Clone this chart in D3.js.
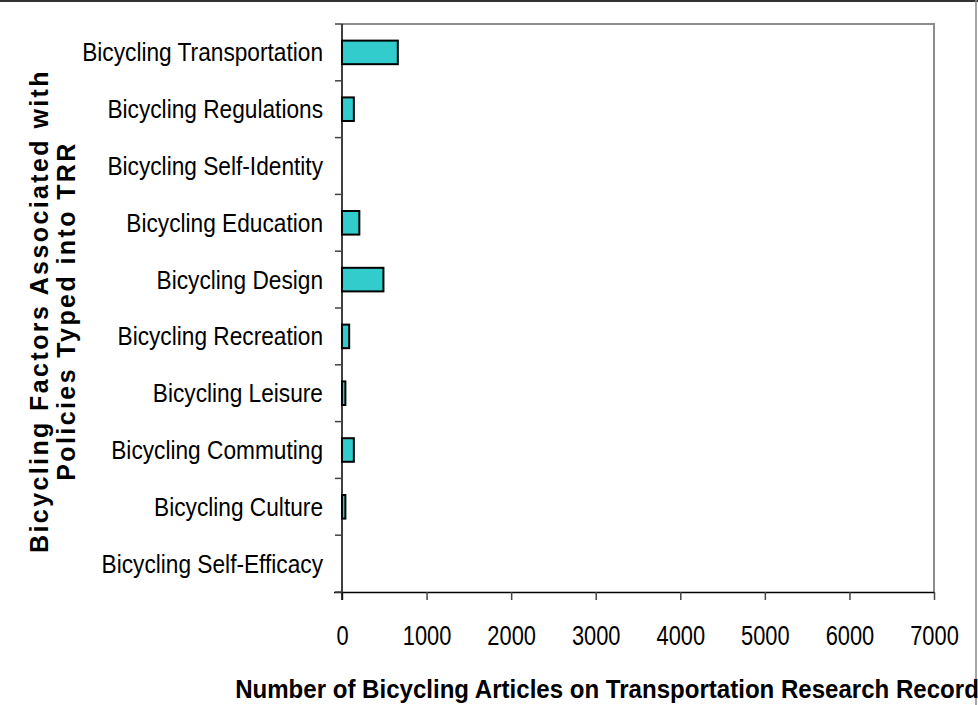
<!DOCTYPE html>
<html>
<head>
<meta charset="utf-8">
<script src="https://cdn.jsdelivr.net/npm/d3@7"></script>
<style>
  html, body { margin: 0; padding: 0; background: #fff; }
  svg { display: block; }
  text { font-family: "Liberation Sans", Arial, sans-serif; fill: #000; }
</style>
</head>
<body>
<svg id="chart" width="978" height="705"></svg>
<script>
// Factors, top to bottom as listed on the chart
const categories = [
  "Bicycling Transportation",
  "Bicycling Regulations",
  "Bicycling Self-Identity",
  "Bicycling Education",
  "Bicycling Design",
  "Bicycling Recreation",
  "Bicycling Leisure",
  "Bicycling Commuting",
  "Bicycling Culture",
  "Bicycling Self-Efficacy"
];
// Article counts per factor
const articleCounts = [660, 140, 0, 205, 490, 85, 40, 140, 40, 0];
const xTicks = [0, 1000, 2000, 3000, 4000, 5000, 6000, 7000];
const xTitle = "Number of Bicycling Articles on Transportation Research Record";
const yTitleLines = ["Bicycling Factors Associated with", "Policies Typed into TRR"];

const svg = d3.select("#chart");
const W = 978, H = 705;
const plot = { left: 342, right: 934, top: 24, bottom: 592 };

// condensed lettering: horizontally squeezed text
const narrowAt = (x, y, sx) => `translate(${x},${y}) scale(${sx},1)`;

// outer frame: top and right edges
svg.append("line").attr("x1", 0).attr("x2", W).attr("y1", 1).attr("y2", 1)
  .attr("stroke", "#333").attr("stroke-width", 2);
svg.append("line").attr("x1", W - 2).attr("x2", W - 2).attr("y1", 0).attr("y2", H)
  .attr("stroke", "#888").attr("stroke-width", 1.5);

const x = d3.scaleLinear().domain([0, 7000]).range([plot.left, plot.right]);
const y = d3.scaleBand().domain(categories).range([plot.top, plot.bottom])
  .paddingInner(0.585).paddingOuter(0.2925);

// plot frame (top and right in grey)
svg.append("path")
  .attr("d", `M${plot.left},${plot.top}H${plot.right}V${plot.bottom}`)
  .attr("fill", "none").attr("stroke", "#8c8c8c").attr("stroke-width", 2);

// bars
svg.append("g").selectAll("rect")
  .data(categories.map((c, i) => ({ c, v: articleCounts[i] })).filter(d => d.v > 0))
  .join("rect")
  .attr("x", x(0))
  .attr("y", d => y(d.c))
  .attr("width", d => x(d.v) - x(0))
  .attr("height", y.bandwidth())
  .attr("fill", "#33cccc")
  .attr("stroke", "#000")
  .attr("stroke-width", 2);

// x axis
const xAxis = svg.append("g")
  .attr("transform", `translate(0,${plot.bottom})`)
  .call(d3.axisBottom(x).tickValues(xTicks).tickSize(8).tickFormat(d3.format("d")));
xAxis.select(".domain").attr("stroke", "#000").attr("stroke-width", 1.5)
  .attr("d", `M${plot.left - 8},0.5H${plot.right}`);
xAxis.selectAll(".tick line").attr("stroke", "#444").attr("stroke-width", 1.5);
xAxis.selectAll(".tick text")
  .attr("y", 0).attr("dy", null)
  .attr("transform", narrowAt(0, 53, 0.78))
  .attr("font-family", null)
  .attr("font-size", 28).attr("fill", "#000");

// y axis: ticks on category boundaries, labels centred in bands
const step = y.step();
const boundaries = d3.range(categories.length + 1).map(i => plot.top + i * step);
const yg = svg.append("g");
yg.append("line").attr("x1", plot.left).attr("x2", plot.left)
  .attr("y1", plot.top).attr("y2", plot.bottom + 8)
  .attr("stroke", "#000").attr("stroke-width", 1.5);
yg.selectAll("line.tk").data(boundaries).join("line").attr("class", "tk")
  .attr("x1", plot.left - 7).attr("x2", plot.left)
  .attr("y1", d => d).attr("y2", d => d)
  .attr("stroke", "#444").attr("stroke-width", 1.5);
yg.selectAll("text").data(categories).join("text")
  .attr("transform", d => narrowAt(323, y(d) + y.bandwidth() / 2 + 9, 0.89))
  .attr("text-anchor", "end")
  .attr("font-size", 25.5)
  .text(d => d);

// axis titles
svg.append("text")
  .attr("transform", narrowAt(607, 698, 0.944))
  .attr("text-anchor", "middle")
  .attr("font-size", 25.5).attr("font-weight", "bold")
  .text(xTitle);

const yTitle = svg.append("text")
  .attr("transform", "translate(0,311) rotate(-90)")
  .attr("text-anchor", "middle")
  .attr("font-size", 25).attr("font-weight", "bold")
  .attr("letter-spacing", 2.4);
yTitle.selectAll("tspan").data(yTitleLines).join("tspan")
  .attr("x", 0)
  .attr("y", (d, i) => 48 + i * 27)
  .text(d => d);
</script>
</body>
</html>
